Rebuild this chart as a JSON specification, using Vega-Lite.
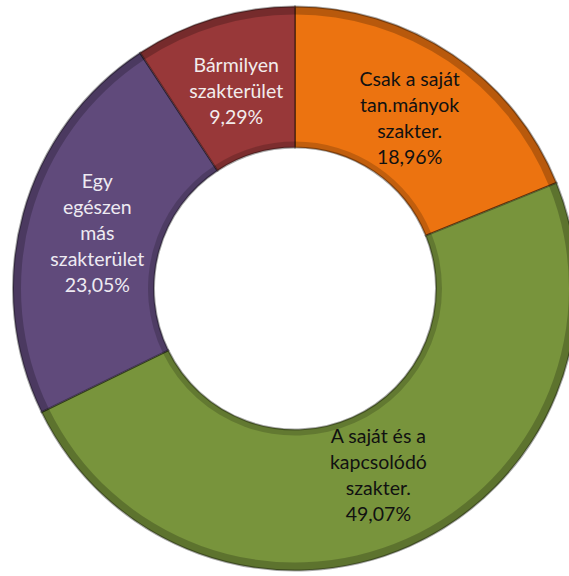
{
  "$schema": "https://vega.github.io/schema/vega-lite/v6.json",
  "width": 548,
  "height": 575,
  "autosize": "none",
  "padding": {"left": 21, "top": 1, "right": 0, "bottom": 0},
  "background": "white",
  "config": {"view": {"stroke": null}},
  "data": {
    "values": [
      {"cat": "Csak a saját tan.mányok szakter.", "label": "Csak a saját\ntan.mányok\nszakter.\n18,96%", "value": 18.96, "ord": 1},
      {"cat": "A saját és a kapcsolódó szakter.", "label": "A saját és a\nkapcsolódó\nszakter.\n49,07%", "value": 49.07, "ord": 2},
      {"cat": "Egy egészen más szakterület", "label": "Egy\negészen\nmás\nszakterület\n23,05%", "value": 23.05, "ord": 3},
      {"cat": "Bármilyen szakterület", "label": "Bármilyen\nszakterület\n9,29%", "value": 9.29, "ord": 4}
    ]
  },
  "encoding": {
    "theta": {"field": "value", "type": "quantitative", "stack": true},
    "order": {"field": "ord", "type": "quantitative"}
  },
  "layer": [
    {
      "mark": {"type": "arc", "innerRadius": 141, "outerRadius": 282, "stroke": "#000000", "strokeOpacity": 0.35, "strokeWidth": 2},
      "encoding": {
        "color": {
          "field": "cat",
          "type": "nominal",
          "scale": {
            "domain": ["Csak a saját tan.mányok szakter.", "A saját és a kapcsolódó szakter.", "Egy egészen más szakterület", "Bármilyen szakterület"],
            "range": ["#EC7310", "#78943C", "#604A7B", "#983839"]
          },
          "legend": null
        }
      }
    },
    {
      "mark": {"type": "arc", "innerRadius": 274, "outerRadius": 282, "fill": "#000000", "fillOpacity": 0.22},
      "encoding": {}
    },
    {
      "mark": {"type": "arc", "innerRadius": 141, "outerRadius": 147, "fill": "#000000", "fillOpacity": 0.18},
      "encoding": {}
    },
    {
      "mark": {"type": "text", "radius": 205, "font": "Lato", "fontSize": 19.5, "lineHeight": 26, "lineBreak": "\n", "align": "center", "baseline": "middle", "dy": {"expr": "-(length(split(datum.label, '\\n')) - 1) * 13"}},
      "encoding": {
        "text": {"field": "label"},
        "color": {
          "field": "cat",
          "type": "nominal",
          "scale": {
            "domain": ["Csak a saját tan.mányok szakter.", "A saját és a kapcsolódó szakter.", "Egy egészen más szakterület", "Bármilyen szakterület"],
            "range": ["#111111", "#111111", "#EEEAF2", "#F2ECEC"]
          },
          "legend": null
        }
      }
    }
  ],
  "resolve": {"scale": {"color": "independent"}}
}
